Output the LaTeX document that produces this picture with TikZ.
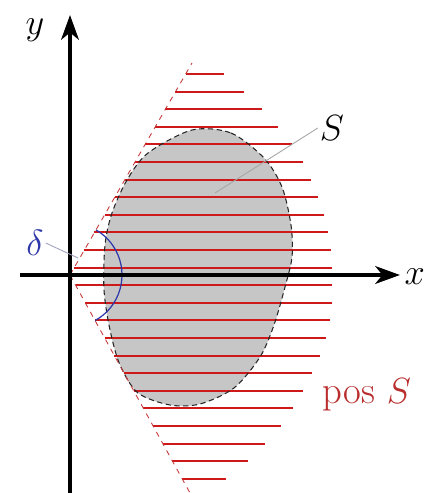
\documentclass[tikz,border=0pt]{standalone}
\usepackage{amsmath,amssymb}
\usetikzlibrary{arrows.meta}
\definecolor{hatchred}{RGB}{205,25,25}
\definecolor{deltablue}{RGB}{45,55,170}
\definecolor{posred}{RGB}{185,45,45}

\begin{document}
\begin{tikzpicture}[x=0.02cm,y=0.02cm,
  axis/.style={line width=2.3pt,-{Stealth[length=14pt,width=10pt,inset=4pt]}},
  hatch/.style={hatchred,line width=1.1pt},
  conestyle/.style={dashed,red!55!gray,line width=0.5pt},
  lab/.style={font=\fontsize{22}{26}\selectfont,inner sep=1pt}]
\useasboundingbox (-70,-218) rectangle (358,275);
% the set S (filled first)
\fill[gray!45] plot[smooth cycle] coordinates {
  (122,145)(161,142)(194,117)(212,88)(221,50)(222,18)(215,-12)(204,-50)
  (190,-82)(164,-113)(130,-129)(100,-130)(68,-118)(50,-90)(40,-55)(34,-15)
  (35,30)(42,62)(57,95)(78,122)};
% hatching of pos S, from the cone edge to the right envelope
\foreach \yy/\xe in {201/154,183.4/174,165.8/192,148.2/208,130.6/222,113/233,
  95.4/241,77.8/248,60.2/254,42.6/258,25/261,7.4/262,-10.2/262,-27.8/262,
  -45.4/260,-63/256,-80.6/250,-98.2/242,-115.8/233,-133.4/223,-151/211,
  -168.6/195,-186.2/178,-203.8/156}
  {\pgfmathsetmacro\xs{\yy>0 ? 0.575*\yy : -0.55*\yy}
   \draw[hatch] (\xs,\yy) -- (\xe,\yy);}
% border of S
\draw[densely dashed,gray!30!black,line width=0.6pt] plot[smooth cycle] coordinates {
  (122,145)(161,142)(194,117)(212,88)(221,50)(222,18)(215,-12)(204,-50)
  (190,-82)(164,-113)(130,-129)(100,-130)(68,-118)(50,-90)(40,-55)(34,-15)
  (35,30)(42,62)(57,95)(78,122)};
% cone edges
\coordinate (O) at (0,0);
\coordinate (cu) at (122,212);
\coordinate (cl) at (120,-218);
\draw[conestyle] (O) -- (cu);
\draw[conestyle] (O) -- (cl);
% angle delta
\draw[deltablue,line width=0.7pt] (-61:52) arc[start angle=-61,end angle=60,radius=52];
% axes
\coordinate (xl) at (-50,0);
\coordinate (xr) at (330,0);
\coordinate (yb) at (0,-218);
\coordinate (yt) at (0,260);
\draw[axis] (xl) -- (xr);
\draw[axis] (yb) -- (yt);
\node[lab,anchor=east] (xlab) at (357,-2) {$x$};
\node[lab] (ylab) at (-35,245) {$y$};
% labels with leaders
\node[lab,text=deltablue] (dlab) at (-35,32) {$\delta$};
\coordinate (dpt) at (8,17);
\draw[deltablue!40!gray!60,line width=0.5pt] (dlab.east) -- (dpt);
\node[lab] (slab) at (262,147) {$S$};
\coordinate (spt) at (145,82);
\draw[gray!70,line width=0.5pt] (slab.west) -- (spt);
\node[lab,text=posred] (poslab) at (297,-120) {pos $S$};
\end{tikzpicture}
\end{document}
